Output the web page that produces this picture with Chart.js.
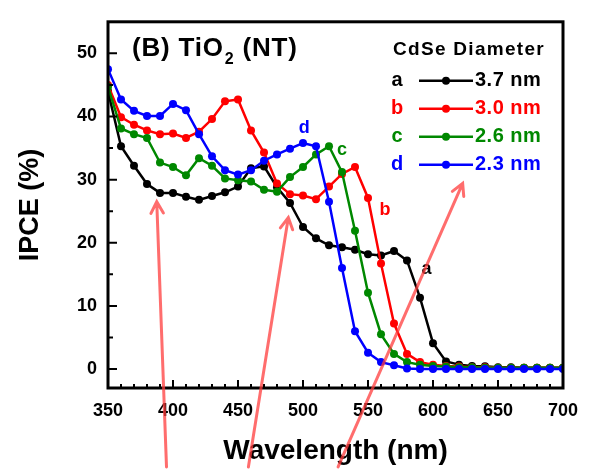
<!DOCTYPE html>
<html>
<head>
<meta charset="utf-8">
<script src="https://cdn.jsdelivr.net/npm/chart.js@4/dist/chart.umd.min.js"></script>
<style>
  body { margin: 0; background: #fff; }
  #wrap { width: 593px; height: 470px; }
</style>
</head>
<body>
<div id="wrap"><canvas id="myChart" width="593" height="470"></canvas></div>
<script>
// wavelength (nm)
var wavelengths = [350, 360, 370, 380, 390, 400, 410, 420, 430, 440, 450, 460, 470, 480, 490, 500, 510, 520,
                   530, 540, 550, 560, 570, 580, 590, 600, 610, 620, 630, 640, 650, 660, 670, 680, 690, 700];

// IPCE (%) for each CdSe diameter
var ipceA = [44.0, 35.3, 32.2, 29.3, 27.9, 27.9, 27.3, 26.8, 27.4, 28.0, 28.9, 31.8, 32.1, 28.8, 26.3, 22.5, 20.7, 19.6,
             19.3, 18.9, 18.2, 18.0, 18.7, 17.2, 11.3, 4.1, 1.2, 0.7, 0.5, 0.45, 0.3, 0.3, 0.2, 0.2, 0.2, 0.2];
var ipceB = [45.0, 39.9, 38.7, 37.8, 37.2, 37.3, 36.6, 37.6, 39.6, 42.4, 42.7, 37.8, 34.3, 29.4, 27.7, 27.5, 26.9, 28.9,
             30.9, 32.0, 27.1, 16.7, 7.2, 2.4, 1.1, 0.7, 0.5, 0.4, 0.3, 0.3, 0.2, 0.2, 0.2, 0.2, 0.2, 0.2];
var ipceC = [44.7, 38.1, 37.2, 36.6, 32.7, 32.0, 30.7, 33.4, 32.2, 30.2, 29.9, 29.7, 28.4, 28.1, 30.4, 32.0, 34.0, 35.3,
             31.2, 21.9, 12.1, 5.5, 2.4, 1.1, 0.7, 0.5, 0.4, 0.3, 0.3, 0.2, 0.2, 0.2, 0.2, 0.2, 0.2, 0.2];
var ipceD = [47.5, 42.7, 40.9, 40.1, 40.1, 42.0, 41.0, 37.2, 33.7, 31.5, 30.8, 31.5, 33.0, 34.0, 34.9, 35.8, 35.3, 26.5,
             16.0, 6.0, 2.6, 1.1, 0.6, 0.1, 0.0, 0.0, 0.0, 0.0, 0.0, 0.0, 0.0, 0.0, 0.0, 0.0, 0.0, 0.0];

var seriesLetters = ['a', 'b', 'c', 'd'];
var seriesNames = ['3.7 nm', '3.0 nm', '2.6 nm', '2.3 nm'];
var seriesColors = ['#000000', '#ff0000', '#008800', '#0000ff'];

// curve labels (wavelength, IPCE)
var curveLabelX = [595, 563, 530, 501];
var curveLabelY = [15.8, 25.2, 34.7, 38.2];

// red arrows: tail -> tip (wavelength, IPCE)
var arrowTailX = [395, 458, 527];
var arrowTailY = [-15.5, -15.5, -15.5];
var arrowTipX = [387.5, 488.7, 622.8];
var arrowTipY = [26.5, 24.0, 29.4];

var xTicks = [350, 400, 450, 500, 550, 600, 650, 700];
var yTicks = [0, 10, 20, 30, 40, 50];

var FONT = "'Liberation Sans', Arial, sans-serif";
Chart.defaults.font.family = FONT;
Chart.defaults.color = '#000';

function toPoints(ys) {
    return wavelengths.map(function (x, i) { return {x: x, y: ys[i]}; });
}

var allSeries = [ipceA, ipceB, ipceC, ipceD];
var datasets = allSeries.map(function (ys, i) {
    return {
        label: seriesNames[i],
        data: toPoints(ys),
        borderColor: seriesColors[i],
        backgroundColor: seriesColors[i],
        borderWidth: 2.5,
        pointRadius: 4,
        pointBorderWidth: 0,
        tension: 0,
        order: 3 - i
    };
});

var framePlugin = {
    id: 'frame',
    afterDatasetsDraw: function (chart) {
        var ctx = chart.ctx;
        var a = chart.chartArea;
        var xs = chart.scales.x, ys = chart.scales.y;
        ctx.save();

        // inward ticks
        ctx.strokeStyle = '#000';
        ctx.lineWidth = 2;
        ctx.beginPath();
        for (var v = 0; v <= 50; v += 5) {
            var py = ys.getPixelForValue(v);
            ctx.moveTo(a.left, py);
            ctx.lineTo(a.left + (v % 10 === 0 ? 9 : 5), py);
        }
        for (var w = 360; w < 700; w += 10) {
            var px = xs.getPixelForValue(w);
            ctx.moveTo(px, a.bottom);
            ctx.lineTo(px, a.bottom - (w % 50 === 0 ? 8 : 4));
        }
        ctx.stroke();

        // frame
        ctx.lineWidth = 3;
        ctx.strokeRect(a.left, a.top, a.right - a.left, a.bottom - a.top);

        // panel title
        ctx.fillStyle = '#000';
        ctx.textBaseline = 'alphabetic';
        ctx.textAlign = 'left';
        ctx.letterSpacing = '0.8px';
        ctx.font = 'bold 26px ' + FONT;
        var tx = a.left + 24, ty = a.top + 34;
        ctx.fillText('(B) TiO', tx, ty);
        tx += ctx.measureText('(B) TiO').width;
        ctx.font = 'bold 16px ' + FONT;
        ctx.fillText('2', tx + 1, ty + 8);
        tx += ctx.measureText('2').width + 1;
        ctx.font = 'bold 26px ' + FONT;
        ctx.fillText(' (NT)', tx, ty);

        // legend
        var lx = a.right - 170;
        ctx.font = 'bold 19px ' + FONT;
        ctx.letterSpacing = '1.3px';
        ctx.textBaseline = 'middle';
        ctx.fillText('CdSe Diameter', lx, a.top + 28);
        ctx.letterSpacing = '0px';
        for (var i = 0; i < 4; i++) {
            var ry = a.top + 59 + i * 28;
            ctx.fillStyle = seriesColors[i];
            ctx.strokeStyle = seriesColors[i];
            ctx.font = 'bold 20px ' + FONT;
            ctx.textAlign = 'center';
            ctx.fillText(seriesLetters[i], a.right - 166, ry);
            ctx.lineWidth = 2.5;
            ctx.beginPath();
            ctx.moveTo(a.right - 144, ry);
            ctx.lineTo(a.right - 90, ry);
            ctx.stroke();
            ctx.beginPath();
            ctx.arc(a.right - 117, ry, 4, 0, Math.PI * 2);
            ctx.fill();
            ctx.textAlign = 'left';
            ctx.letterSpacing = '0.5px';
            ctx.fillText(seriesNames[i], a.right - 88, ry);
            ctx.letterSpacing = '0px';
        }

        // curve labels
        ctx.font = 'bold 18px ' + FONT;
        ctx.textAlign = 'center';
        for (var j = 0; j < 4; j++) {
            ctx.fillStyle = seriesColors[j];
            ctx.fillText(seriesLetters[j], xs.getPixelForValue(curveLabelX[j]), ys.getPixelForValue(curveLabelY[j]));
        }
        ctx.restore();
    },
    afterDraw: function (chart) {
        var ctx = chart.ctx;
        var xs = chart.scales.x, ys = chart.scales.y;
        ctx.save();
        ctx.strokeStyle = 'rgba(255, 60, 60, 0.75)';
        ctx.lineWidth = 3;
        ctx.lineCap = 'round';
        for (var k = 0; k < arrowTipX.length; k++) {
            var x0 = xs.getPixelForValue(arrowTailX[k]), y0 = ys.getPixelForValue(arrowTailY[k]);
            var x1 = xs.getPixelForValue(arrowTipX[k]), y1 = ys.getPixelForValue(arrowTipY[k]);
            var ang = Math.atan2(y1 - y0, x1 - x0);
            var hl = 13, ha = 0.5;
            ctx.beginPath();
            ctx.moveTo(x0, y0);
            ctx.lineTo(x1, y1);
            ctx.moveTo(x1 - hl * Math.cos(ang - ha), y1 - hl * Math.sin(ang - ha));
            ctx.lineTo(x1, y1);
            ctx.lineTo(x1 - hl * Math.cos(ang + ha), y1 - hl * Math.sin(ang + ha));
            ctx.stroke();
        }
        ctx.restore();
    }
};

var ctx = document.getElementById('myChart');
var myChart = new Chart(ctx, {
    type: 'line',
    data: { datasets: datasets },
    options: {
        responsive: false,
        animation: false,
        layout: { padding: { top: 9, right: 30, left: 0, bottom: 0 } },
        plugins: {
            legend: { display: false },
            tooltip: { enabled: false }
        },
        scales: {
            x: {
                type: 'linear',
                min: 350,
                max: 700,
                afterFit: function (s) { s.height = 82; },
                afterBuildTicks: function (s) { s.ticks = xTicks.map(function (v) { return {value: v}; }); },
                grid: { display: false, drawTicks: false },
                border: { display: false },
                ticks: { padding: 12, font: { size: 18, weight: 'bold' }, maxRotation: 0 },
                title: {
                    display: true,
                    text: 'Wavelength (nm)',
                    font: { size: 28, weight: 'bold' },
                    padding: { top: 0, bottom: 2 }
                }
            },
            y: {
                type: 'linear',
                min: -3,
                max: 55,
                afterFit: function (s) { s.width = 108; },
                afterBuildTicks: function (s) { s.ticks = yTicks.map(function (v) { return {value: v}; }); },
                grid: { display: false, drawTicks: false },
                border: { display: false },
                ticks: { padding: 11, font: { size: 18, weight: 'bold' } },
                title: {
                    display: true,
                    text: 'IPCE (%)',
                    font: { size: 27, weight: 'bold' },
                    padding: { top: 14, bottom: 0 }
                }
            }
        }
    },
    plugins: [framePlugin]
});
</script>
</body>
</html>
